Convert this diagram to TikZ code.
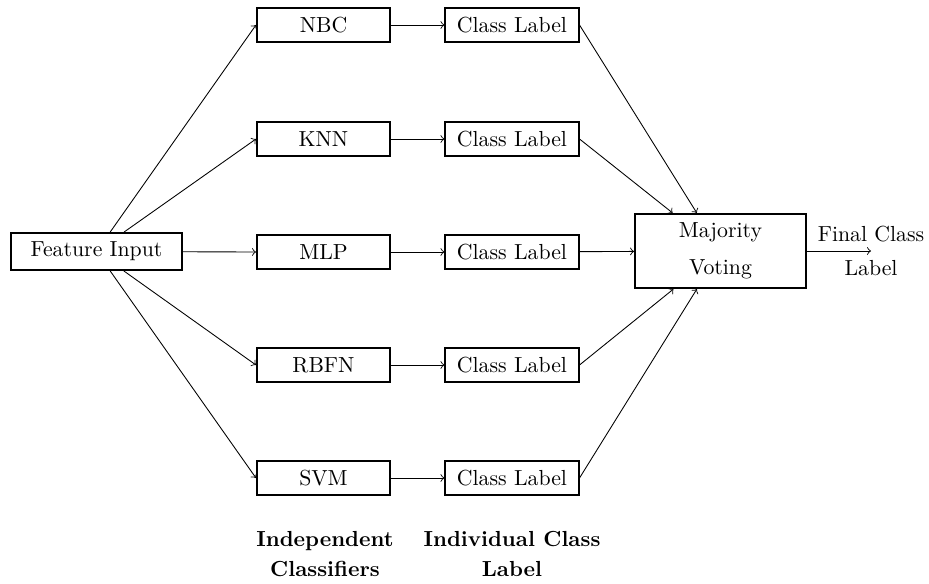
\documentclass[tikz,border=0pt]{standalone}
\usetikzlibrary{positioning}
\begin{document}
\begin{tikzpicture}[x=0.016129cm,y=-0.016129cm,
  boxsmall/.style={draw,thick,minimum width=2.15cm,minimum height=0.56cm,inner sep=2pt},
  boxwide/.style={draw,thick,minimum width=2.76cm,minimum height=0.6cm,inner sep=2pt},
  boxvote/.style={draw,thick,minimum width=2.76cm,minimum height=1.2cm,align=center,inner sep=2pt},
  conn/.style={->},
  caption/.style={font=\bfseries,align=center}]
\useasboundingbox (0,0) rectangle (929,584);
\node[boxwide] (fi) at (96.5,251.5) {Feature Input};
\node[boxsmall] (nbc) at (323.5,25) {NBC};
\node[boxsmall] (knn) at (323.5,139) {KNN};
\node[boxsmall] (mlp) at (323.5,252) {MLP};
\node[boxsmall] (rbfn) at (323.5,365) {RBFN};
\node[boxsmall] (svm) at (323.5,478) {SVM};
\node[boxsmall] (c1) at (512,25) {Class Label};
\node[boxsmall] (c2) at (512,139) {Class Label};
\node[boxsmall] (c3) at (512,252) {Class Label};
\node[boxsmall] (c4) at (512,365) {Class Label};
\node[boxsmall] (c5) at (512,478) {Class Label};
\node[boxvote] (mv) at (720.5,251) {Majority\\[5pt]Voting};
\coordinate (fend) at (871,251);
\node[align=center] (fl) at (fend) {Final Class\\[3.5pt]Label};
\node[caption] (cap1) at (325,554) {Independent\\[2pt]Classifiers};
\node[caption] (cap2) at (512,554) {Individual Class\\[2pt]Label};
\foreach \n in {nbc,knn,mlp,rbfn,svm} {\draw[conn] (fi) -- (\n.west);}
\draw[conn] (nbc) -- (c1);
\draw[conn] (knn) -- (c2);
\draw[conn] (mlp) -- (c3);
\draw[conn] (rbfn) -- (c4);
\draw[conn] (svm) -- (c5);
\draw[conn] (c1.east) -- (mv);
\draw[conn] (c2.east) -- (mv);
\draw[conn] (c3) -- (mv);
\draw[conn] (c4.east) -- (mv);
\draw[conn] (c5.east) -- (mv);
\draw[conn] (mv.east) -- (fend);
\end{tikzpicture}
\end{document}
